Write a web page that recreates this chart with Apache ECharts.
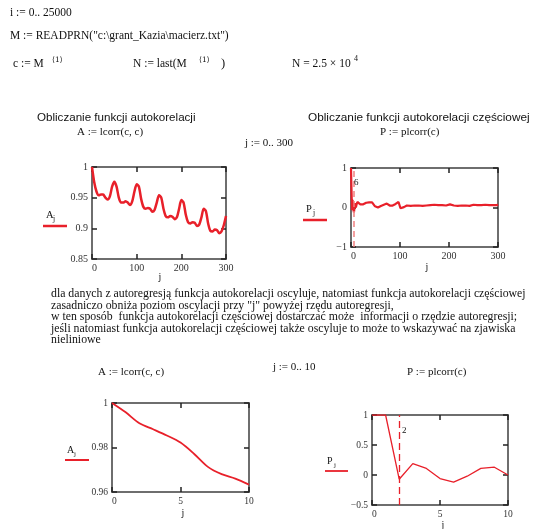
<!DOCTYPE html>
<html>
<head>
<meta charset="utf-8">
<script src="https://cdn.jsdelivr.net/npm/echarts@6/dist/echarts.min.js"></script>
<style>
html,body{margin:0;padding:0;background:#fff;}
#c{width:535px;height:529px;}
</style>
</head>
<body>
<div id="c"></div>
<script>
// ---- data ----
// A_j, j = 0..300 (autocorrelation)
const A300 = [
 [0,1.000],[5,0.975],[10,0.960],[15,0.954],[20,0.955],[25,0.955],[30,0.950],[35,0.947],
 [40,0.952],[45,0.968],[50,0.976],[55,0.968],[60,0.950],[65,0.942],[70,0.942],[75,0.944],
 [80,0.942],[85,0.938],[90,0.944],[95,0.960],[100,0.972],[105,0.968],[110,0.948],[115,0.935],
 [120,0.932],[125,0.933],[130,0.932],[135,0.927],[140,0.930],[145,0.942],[150,0.954],[155,0.950],
 [160,0.932],[165,0.920],[170,0.918],[175,0.920],[180,0.919],[185,0.915],[190,0.918],[195,0.932],
 [200,0.946],[205,0.942],[210,0.922],[215,0.910],[220,0.908],[225,0.910],[230,0.909],[235,0.904],
 [240,0.906],[245,0.918],[250,0.932],[255,0.928],[260,0.908],[265,0.896],[270,0.895],[275,0.898],
 [280,0.897],[285,0.892],[290,0.895],[295,0.905],[300,0.920]
];
// P_j, j = 0..300 (partial autocorrelation)
const P300 = [
 [0,1],[1,1],[2,-0.07],[3,0.19],[4,0.11],[5,-0.06],[6,-0.12],[7,-0.02],[8,0.11],[9,0.13],[10,0.0],
 [11,0.06],[12,0.11],[13,0.14],[14,0.12],[15,0.09],[17,0.12],[19,0.08],[21,0.06],[23,0.07],[25,0.08],
 [28,0.10],[31,0.12],[34,0.11],[37,0.13],[40,0.12],[43,0.13],[46,0.10],[49,0.03],[52,-0.01],[55,0.00],
 [58,0.01],[61,0.04],[64,0.06],[67,0.07],[70,0.08],[73,0.10],[76,0.09],[79,0.05],[82,0.03],[85,0.05],
 [88,0.08],[91,0.09],[94,0.12],[97,0.14],[99,0.10],[101,-0.02],[103,-0.07],[105,-0.05],[108,0.01],[111,0.04],
 [114,0.05],[118,0.06],[122,0.04],[126,0.06],[130,0.05],[134,0.07],[138,0.05],[142,0.06],[146,0.04],[150,0.06],
 [154,0.05],[158,0.07],[162,0.06],[166,0.05],[170,0.07],[174,0.05],[178,0.06],[182,0.04],[186,0.06],[190,0.07],
 [194,0.05],[198,0.06],[202,0.08],[206,0.03],[210,0.05],[214,0.06],[218,0.04],[222,0.06],[226,0.05],[230,0.07],
 [234,0.05],[238,0.06],[242,0.04],[246,0.05],[250,0.07],[254,0.05],[258,0.06],[262,0.04],[266,0.06],[270,0.05],
 [274,0.07],[278,0.05],[282,0.06],[286,0.04],[290,0.06],[294,0.05],[298,0.06],[300,0.08]
];
// j = 0..10
const J10 = [0,1,2,3,4,5,6,7,8,9,10];
const A10 = [1.000,0.9958,0.9909,0.9882,0.9854,0.9822,0.9771,0.9713,0.9680,0.9660,0.9633];
const P10 = [1,1,-0.07,0.19,0.11,-0.06,-0.12,-0.02,0.11,0.13,0.0];
const markerTop = 6;
const markerBottom = 2;

// ---- chart ----
const RED = '#e8202a';
const SERIF = '"Liberation Serif","Times New Roman",serif';
const SANS = '"Liberation Sans",Arial,sans-serif';
const grids = [
  {left:92, top:167, width:134, height:92},
  {left:351, top:168, width:147, height:79},
  {left:112, top:403, width:137, height:89},
  {left:372, top:415, width:136, height:90}
];
const xr = [[0,300,100],[0,300,100],[0,10,5],[0,10,5]];
const yr = [[0.85,1,0.05],[-1,1,1],[0.96,1,0.02],[-0.5,1,0.5]];
const lblSize = [10,10,9.5,9.5];
function fmt(v){ let s = String(+(+v).toFixed(4)); return s.replace('-', '\u2212'); }
const xAxis = [], yAxis = [];
grids.forEach((g,i)=>{
  const line = {show:true, onZero:false, lineStyle:{color:'#6e6e6e', width:2}};
  const tick = {show:true, inside:true, length:5, lineStyle:{color:'#222', width:1.5}};
  const lab = {show:true, fontFamily:SERIF, fontSize:lblSize[i], color:'#333', margin:4, formatter:fmt};
  ['bottom','top'].forEach(pos=>{
    xAxis.push({gridIndex:i, type:'value', position:pos, min:xr[i][0], max:xr[i][1], interval:xr[i][2],
      axisLine:line, axisTick:tick, splitLine:{show:false},
      axisLabel: pos==='bottom' ? Object.assign({alignMinLabel:'left'}, lab) : {show:false}});
  });
  ['left','right'].forEach(pos=>{
    yAxis.push({gridIndex:i, type:'value', position:pos, min:yr[i][0], max:yr[i][1], interval:yr[i][2],
      axisLine:line, axisTick:tick, splitLine:{show:false},
      axisLabel: pos==='left' ? lab : {show:false}});
  });
});

const series = [
  {type:'line', xAxisIndex:0, yAxisIndex:0, data:A300, smooth:0.25, showSymbol:false,
   lineStyle:{color:RED, width:2.5}},
  {type:'line', xAxisIndex:2, yAxisIndex:2, data:P300, showSymbol:false,
   lineStyle:{color:RED, width:2.2},
   markLine:{silent:true, symbol:'none', label:{show:false},
     lineStyle:{color:'#f08080', type:[6,4], width:1.5}, data:[{xAxis:markerTop}]}},
  {type:'line', xAxisIndex:4, yAxisIndex:4, data:J10.map((j,k)=>[j,A10[k]]), smooth:0.3, showSymbol:false,
   lineStyle:{color:RED, width:1.8}},
  {type:'line', xAxisIndex:6, yAxisIndex:6, data:J10.map((j,k)=>[j,P10[k]]), showSymbol:false,
   lineStyle:{color:RED, width:1.3},
   markLine:{silent:true, symbol:'none', label:{show:false},
     lineStyle:{color:RED, type:[7,4], width:1.3}, data:[{xAxis:markerBottom}]}}
];

function t(x,y,text,size,family,extra){
  return {type:'text', z:10, style:Object.assign({x:x, y:y, text:text, fontSize:size, fontFamily:family||SERIF,
    fill:'#111', verticalAlign:'middle', align:'left'}, extra||{})};
}
function ln(x1,y1,x2,y2,w){
  return {type:'line', z:10, shape:{x1:x1,y1:y1,x2:x2,y2:y2}, style:{stroke:RED, lineWidth:w||2}};
}
const BR = '"DejaVu Serif",serif';
const graphic = [
  t(10,13,'i := 0.. 25000',11.5),
  t(10,36,'M := READPRN("c:\\grant_Kazia\\macierz.txt")',11.5),
  t(13,64,'c := M',11.5), t(52,60,'\u27E81\u27E9',7.5,BR),
  t(133,64,'N := last(M',11.5), t(199,60,'\u27E81\u27E9',7.5,BR), t(221,64,')',12.5),
  t(292,64,'N = 2.5 \u00D7 10',11.5), t(354,59,'4',8),
  t(37,118,'Obliczanie funkcji autokorelacji',11.6,SANS),
  t(308,118,'Obliczanie funkcji autokorelacji cz\u0119\u015Bciowej',11.8,SANS),
  t(77,132,'A := lcorr(c, c)',11),
  t(245,143,'j := 0.. 300',11),
  t(380,132,'P := plcorr(c)',11),
  // chart 1 legend & axis title
  t(46,215,'A',10.5), t(53,219,'j',7.5), ln(43,226,67,226,2.5),
  t(160,277,'j',10,SERIF,{align:'center'}),
  // chart 2
  t(306,209,'P',10.5), t(313,213,'j',7.5), ln(303,220,327,220,2.5),
  t(427,267,'j',10,SERIF,{align:'center'}),
  t(354,183,'6',9),
  // paragraph
  t(51,294,'dla danych z autoregresj\u0105 funkcja autokorelacji oscyluje, natomiast funkcja autokorelacji cz\u0119\u015Bciowej',11.8),
  t(51,305.5,'zasadniczo obni\u017Ca poziom oscylacji przy "j" powy\u017Cej rz\u0119du autoregresji,',11.8),
  t(51,317,'w ten spos\u00F3b  funkcja autokorelacji cz\u0119\u015Bciowej dostarcza\u0107 mo\u017Ce  informacji o rz\u0119dzie autoregresji;',11.8),
  t(51,328.5,'je\u015Bli natomiast funkcja autokorelacji cz\u0119\u015Bciowej tak\u017Ce oscyluje to mo\u017Ce to wskazywa\u0107 na zjawiska',11.8),
  t(51,340,'nieliniowe',11.8),
  // bottom row
  t(98,372,'A := lcorr(c, c)',11),
  t(273,367,'j := 0.. 10',11),
  t(407,372,'P := plcorr(c)',11),
  t(67,450,'A',10), t(74,454,'j',7), ln(65,460,89,460,2),
  t(183,513,'j',10,SERIF,{align:'center'}),
  t(327,461,'P',10), t(334,465,'j',7), ln(325,471,348,471,1.8),
  t(443,525,'j',10,SERIF,{align:'center'}),
  t(402,431,'2',9)
];

const chart = echarts.init(document.getElementById('c'), null, {renderer:'canvas'});
chart.setOption({
  backgroundColor:'#fff',
  animation:false,
  grid:grids.map(g=>Object.assign({containLabel:false}, g)),
  xAxis:xAxis, yAxis:yAxis, series:series, graphic:graphic
});
</script>
</body>
</html>
